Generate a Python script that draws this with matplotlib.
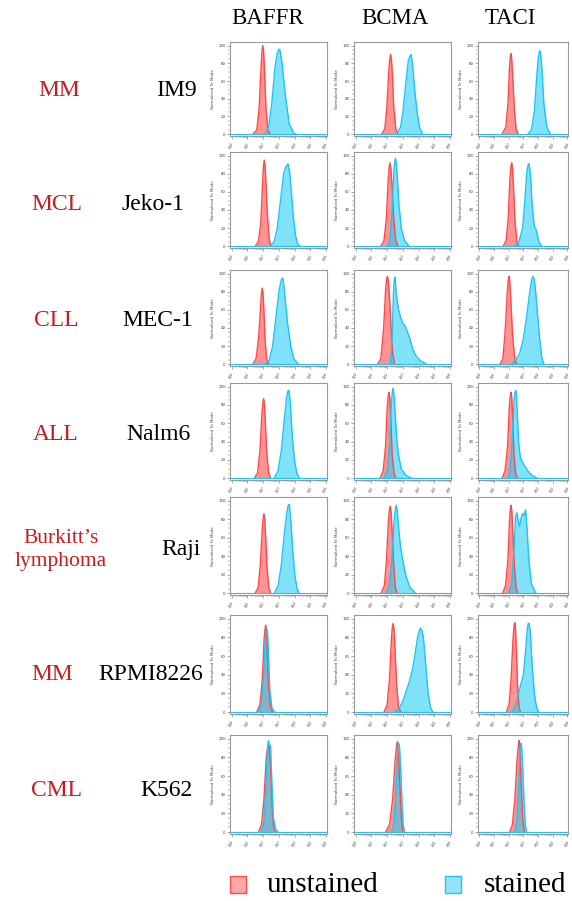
import matplotlib.pyplot as plt
import numpy as np
from matplotlib.patches import Rectangle

W, H = 572, 901

markers = ["BAFFR", "BCMA", "TACI"]
diseases = ["MM", "MCL", "CLL", "ALL", "Burkitt\u2019s\nlymphoma", "MM", "CML"]
cell_lines = ["IM9", "Jeko-1", "MEC-1", "Nalm6", "Raji", "RPMI8226", "K562"]

# curves: (log10 intensity, % of mode), one per marker (BAFFR, BCMA, TACI)
IM9_unstained = [
    ([1.35, 1.6, 1.75, 1.86, 1.93, 1.98, 2.03, 2.1, 2.18, 2.3, 2.45], [0, 5, 30, 72, 94, 100, 94, 68, 30, 5, 0]),
    ([1.65, 1.85, 1.98, 2.1, 2.17, 2.22, 2.27, 2.34, 2.42, 2.55, 2.68], [0, 6, 30, 70, 85, 90, 85, 66, 30, 6, 0]),
    ([1.55, 1.8, 1.95, 2.05, 2.11, 2.15, 2.2, 2.27, 2.38, 2.5, 2.65], [0, 8, 35, 75, 88, 91, 86, 66, 30, 6, 0]),
]
IM9_stained = [
    ([2.1, 2.35, 2.55, 2.75, 2.9, 3.0, 3.08, 3.2, 3.4, 3.65, 3.95, 4.1], [0, 8, 35, 75, 92, 96, 94, 80, 45, 12, 1, 0]),
    ([2.6, 2.85, 3.0, 3.2, 3.35, 3.45, 3.52, 3.6, 3.75, 3.9, 4.05, 4.25], [0, 8, 25, 60, 84, 88, 90, 80, 50, 25, 8, 0]),
    ([3.3, 3.55, 3.75, 3.9, 4.02, 4.1, 4.17, 4.26, 4.4, 4.6, 4.85], [0, 5, 25, 62, 86, 94, 93, 75, 35, 8, 0]),
]
Jeko_unstained = [
    ([1.5, 1.7, 1.85, 1.96, 2.02, 2.07, 2.12, 2.18, 2.27, 2.38, 2.5], [0, 5, 25, 68, 88, 95, 89, 70, 35, 8, 0]),
    ([1.6, 1.8, 1.95, 2.07, 2.13, 2.18, 2.23, 2.31, 2.42, 2.55, 2.7], [0, 6, 30, 74, 88, 92, 87, 68, 30, 6, 0]),
    ([1.62, 1.82, 1.96, 2.08, 2.15, 2.2, 2.25, 2.32, 2.42, 2.55, 2.68], [0, 6, 30, 74, 88, 92, 87, 68, 30, 6, 0]),
]
Jeko_stained = [
    ([2.45, 2.7, 2.9, 3.1, 3.3, 3.45, 3.58, 3.68, 3.78, 3.9, 4.05, 4.2, 4.35], [0, 5, 20, 50, 80, 88, 91, 82, 62, 35, 12, 2, 0]),
    ([2.05, 2.2, 2.32, 2.42, 2.48, 2.53, 2.58, 2.65, 2.75, 2.9, 3.1, 3.4], [0, 10, 40, 80, 93, 97, 92, 75, 45, 20, 6, 0]),
    ([2.4, 2.7, 2.95, 3.1, 3.24, 3.32, 3.39, 3.48, 3.6, 3.75, 3.88, 4.05, 4.25],
     [0, 5, 20, 50, 82, 90, 91, 80, 45, 22, 18, 5, 0]),
]
MEC_unstained = [
    ([1.35, 1.55, 1.72, 1.84, 1.9, 1.94, 1.99, 2.05, 2.12, 2.22, 2.35], [0, 6, 30, 64, 79, 84, 79, 60, 28, 6, 0]),
    ([1.4, 1.6, 1.78, 1.91, 1.97, 2.02, 2.07, 2.14, 2.25, 2.35, 2.48], [0, 6, 40, 84, 94, 97, 93, 78, 40, 12, 0]),
    ([1.4, 1.6, 1.75, 1.9, 1.97, 2.02, 2.07, 2.14, 2.25, 2.4, 2.55], [0, 6, 35, 80, 93, 97, 92, 72, 35, 8, 0]),
]
MEC_stained = [
    ([2.15, 2.4, 2.6, 2.8, 3.0, 3.12, 3.2, 3.27, 3.38, 3.55, 3.75, 3.95, 4.25], [0, 5, 20, 50, 80, 91, 95, 94, 75, 45, 20, 6, 0]),
    ([2.2, 2.32, 2.4, 2.45, 2.5, 2.58, 2.7, 2.85, 3.0, 3.15, 3.3, 3.45, 3.6, 3.8, 4.1, 4.5],
     [0, 30, 78, 93, 96, 78, 62, 52, 45, 42, 35, 28, 18, 10, 4, 0]),
    ([2.2, 2.5, 2.75, 3.0, 3.2, 3.4, 3.55, 3.65, 3.74, 3.85, 3.97, 4.1, 4.25, 4.4],
     [0, 5, 12, 28, 50, 75, 92, 97, 94, 78, 55, 30, 8, 0]),
]
Nalm6_unstained = [
    ([1.45, 1.65, 1.8, 1.92, 1.98, 2.03, 2.08, 2.14, 2.22, 2.35, 2.48], [0, 6, 30, 70, 82, 87, 82, 62, 30, 6, 0]),
    ([1.55, 1.75, 1.9, 2.01, 2.07, 2.12, 2.17, 2.24, 2.32, 2.45, 2.55], [0, 8, 35, 78, 90, 94, 88, 62, 25, 5, 0]),
    ([1.55, 1.75, 1.92, 2.04, 2.11, 2.16, 2.21, 2.28, 2.36, 2.48, 2.6], [0, 8, 35, 78, 90, 94, 88, 62, 25, 5, 0]),
]
Nalm6_stained = [
    ([2.7, 2.95, 3.15, 3.35, 3.48, 3.57, 3.64, 3.73, 3.85, 4.0, 4.15, 4.3], [0, 8, 30, 65, 87, 95, 96, 80, 45, 18, 5, 0]),
    ([1.8, 2.0, 2.15, 2.27, 2.33, 2.38, 2.43, 2.5, 2.6, 2.72, 2.9, 3.2, 3.55], [0, 8, 35, 82, 94, 98, 92, 74, 45, 25, 10, 3, 0]),
    ([1.95, 2.1, 2.25, 2.37, 2.43, 2.48, 2.53, 2.6, 2.68, 2.8, 2.95, 3.1, 3.3, 3.6, 3.95],
     [0, 10, 45, 86, 94, 96, 90, 65, 38, 22, 17, 13, 8, 3, 0]),
]
Raji_unstained = [
    ([1.5, 1.68, 1.82, 1.94, 2.0, 2.05, 2.1, 2.16, 2.24, 2.36, 2.48], [0, 6, 30, 68, 81, 86, 81, 62, 30, 6, 0]),
    ([1.62, 1.82, 1.96, 2.08, 2.15, 2.2, 2.25, 2.32, 2.42, 2.52, 2.64], [0, 8, 35, 78, 90, 94, 88, 66, 30, 6, 0]),
    ([1.58, 1.78, 1.94, 2.05, 2.11, 2.16, 2.21, 2.28, 2.38, 2.5, 2.64], [0, 8, 35, 78, 90, 95, 89, 66, 30, 6, 0]),
]
Raji_stained = [
    ([2.7, 2.95, 3.15, 3.35, 3.5, 3.59, 3.66, 3.75, 3.88, 4.02, 4.15, 4.28], [0, 8, 30, 65, 87, 95, 96, 80, 45, 18, 5, 0]),
    ([1.95, 2.15, 2.3, 2.44, 2.52, 2.58, 2.64, 2.72, 2.85, 3.0, 3.2, 3.45, 3.8], [0, 8, 35, 78, 91, 95, 90, 72, 50, 35, 18, 6, 0]),
    ([2.0, 2.2, 2.35, 2.47, 2.55, 2.65, 2.74, 2.85, 2.95, 3.05, 3.15, 3.25, 3.38, 3.55, 3.85],
     [0, 10, 45, 82, 87, 78, 72, 82, 86, 84, 90, 70, 35, 10, 0]),
]
RPMI_unstained = [
    ([1.6, 1.8, 1.95, 2.06, 2.12, 2.16, 2.21, 2.27, 2.35, 2.48, 2.6], [0, 8, 35, 78, 89, 93, 88, 62, 25, 5, 0]),
    ([1.8, 2.0, 2.15, 2.27, 2.33, 2.38, 2.43, 2.5, 2.6, 2.72, 2.86], [0, 8, 35, 78, 91, 95, 90, 68, 30, 6, 0]),
    ([1.84, 2.02, 2.16, 2.29, 2.36, 2.41, 2.46, 2.52, 2.6, 2.7, 2.8], [0, 8, 35, 78, 92, 96, 90, 68, 30, 6, 0]),
]
RPMI_stained = [
    ([1.7, 1.88, 2.02, 2.13, 2.19, 2.23, 2.28, 2.34, 2.42, 2.55, 2.75], [0, 8, 35, 78, 86, 89, 85, 62, 25, 5, 0]),
    ([2.5, 2.8, 3.0, 3.2, 3.4, 3.6, 3.8, 3.95, 4.1, 4.2, 4.3, 4.45, 4.6, 4.75, 4.9],
     [0, 5, 12, 22, 32, 45, 65, 82, 90, 88, 80, 50, 20, 5, 0]),
    ([2.2, 2.4, 2.6, 2.8, 3.0, 3.15, 3.26, 3.33, 3.4, 3.48, 3.6, 3.75, 3.9, 4.05],
     [0, 5, 15, 28, 40, 65, 88, 95, 95, 85, 50, 20, 5, 0]),
]
K562_unstained = [
    ([1.7, 1.9, 2.05, 2.2, 2.3, 2.35, 2.4, 2.47, 2.55, 2.65, 2.75], [0, 8, 35, 80, 92, 95, 90, 72, 35, 8, 0]),
    ([1.9, 2.15, 2.35, 2.5, 2.6, 2.65, 2.7, 2.78, 2.9, 3.0], [0, 8, 35, 75, 93, 97, 92, 60, 15, 0]),
    ([2.06, 2.25, 2.42, 2.56, 2.66, 2.71, 2.76, 2.83, 2.95, 3.07], [0, 8, 35, 75, 94, 98, 93, 60, 15, 0]),
]
K562_stained = [
    ([1.88, 2.05, 2.18, 2.28, 2.34, 2.4, 2.47, 2.55, 2.65, 2.8, 2.95], [0, 10, 50, 90, 98, 92, 93, 55, 15, 3, 0]),
    ([2.3, 2.45, 2.55, 2.65, 2.7, 2.74, 2.79, 2.86, 2.95, 3.02, 3.1], [0, 10, 40, 80, 92, 95, 90, 68, 30, 8, 0]),
    ([2.42, 2.55, 2.65, 2.75, 2.8, 2.84, 2.89, 2.96, 3.05, 3.13, 3.23], [0, 10, 40, 80, 92, 95, 90, 68, 30, 8, 0]),
]

rows = [
    (IM9_unstained, IM9_stained),
    (Jeko_unstained, Jeko_stained),
    (MEC_unstained, MEC_stained),
    (Nalm6_unstained, Nalm6_stained),
    (Raji_unstained, Raji_stained),
    (RPMI_unstained, RPMI_stained),
    (K562_unstained, K562_stained),
]

# layout in pixels of the reference
row_tops = [42, 152, 270, 383, 497, 615, 735]
row_h = [94, 96, 96, 97, 98, 99, 99]
col_lefts = [230, 354, 478]
col_w = [97, 97, 90]
row_mid = [90, 205, 320, 435, 550, 675, 790]
disease_x = [59, 57, 56, 56, 61, 52, 56]
disease_size = [17, 17, 17, 17, 15.5, 17, 17]
line_x = [176, 153, 158, 158, 181, 151, 166]

red_fill, red_edge = "#FF6E6E", "#FF4A4A"
cyan_fill, cyan_edge = "#22CDF5", "#1EC4F5"
label_red = "#C41E1E"
serif = "Liberation Serif"

fig = plt.figure(figsize=(W / 100, H / 100), dpi=100)

minor_x = np.concatenate([d + np.log10(np.arange(2, 10)) for d in range(6)])

for r, (unst, st) in enumerate(rows):
    for c in range(3):
        ax = fig.add_axes([col_lefts[c] / W, 1 - (row_tops[r] + row_h[r]) / H,
                           col_w[c] / W, row_h[r] / H])
        ux, uy = unst[c]
        sx, sy = st[c]
        ax.fill_between(ux, uy, 0, color=red_fill, alpha=0.75, lw=0)
        ax.plot(ux, uy, color=red_edge, lw=1.0)
        ax.fill_between(sx, sy, 0, color=cyan_fill, alpha=0.58, lw=0)
        ax.plot(sx, sy, color=cyan_edge, lw=1.0)
        ax.axhline(0, color=cyan_edge, lw=0.8)
        ax.set_xlim(-0.1, 6.05)
        ax.set_ylim(-2, 104)
        ax.set_xticks(range(7))
        ax.set_xticklabels([f"$10^{{{k}}}$" for k in range(7)], fontsize=2.8,
                           rotation=45, color="#444444")
        ax.set_xticks(minor_x, minor=True)
        ax.set_yticks([0, 20, 40, 60, 80, 100])
        ax.set_yticklabels(["0", "20", "40", "60", "80", "100"], fontsize=2.8, color="#444444")
        ax.set_yticks(range(0, 101, 5), minor=True)
        ax.tick_params(which="major", length=2.2, width=0.4, pad=1, color="#666666")
        ax.tick_params(which="minor", length=1.2, width=0.3, color="#666666")
        ax.set_ylabel("Normalized To Mode", fontsize=2.8, labelpad=2, color="#444444")
        for s in ax.spines.values():
            s.set_color("#999999")
            s.set_linewidth(0.8)

    fig.text(disease_x[r] / W, 1 - row_mid[r] / H, diseases[r], ha="center", va="center",
             fontsize=disease_size[r], color=label_red, family=serif, linespacing=1.25)
    fig.text(line_x[r] / W, 1 - row_mid[r] / H, cell_lines[r], ha="center", va="center",
             fontsize=17, color="black", family=serif)

header_x = [268, 395, 510]
for c, name in enumerate(markers):
    fig.text(header_x[c] / W, 1 - 18 / H, name, ha="center", va="center",
             fontsize=16.5, family=serif)

# legend
fig.patches.append(Rectangle((230 / W, 1 - 893 / H), 16 / W, 17 / H, transform=fig.transFigure,
                             facecolor="#FFA8A8", edgecolor=red_edge, lw=1))
fig.text(267 / W, 1 - 885 / H, "unstained", ha="left", va="center", fontsize=21, family=serif)
fig.patches.append(Rectangle((445 / W, 1 - 893 / H), 16 / W, 17 / H, transform=fig.transFigure,
                             facecolor="#95E4FA", edgecolor=cyan_edge, lw=1))
fig.text(484 / W, 1 - 885 / H, "stained", ha="left", va="center", fontsize=21, family=serif)

fig.savefig("out.png", dpi=100)
